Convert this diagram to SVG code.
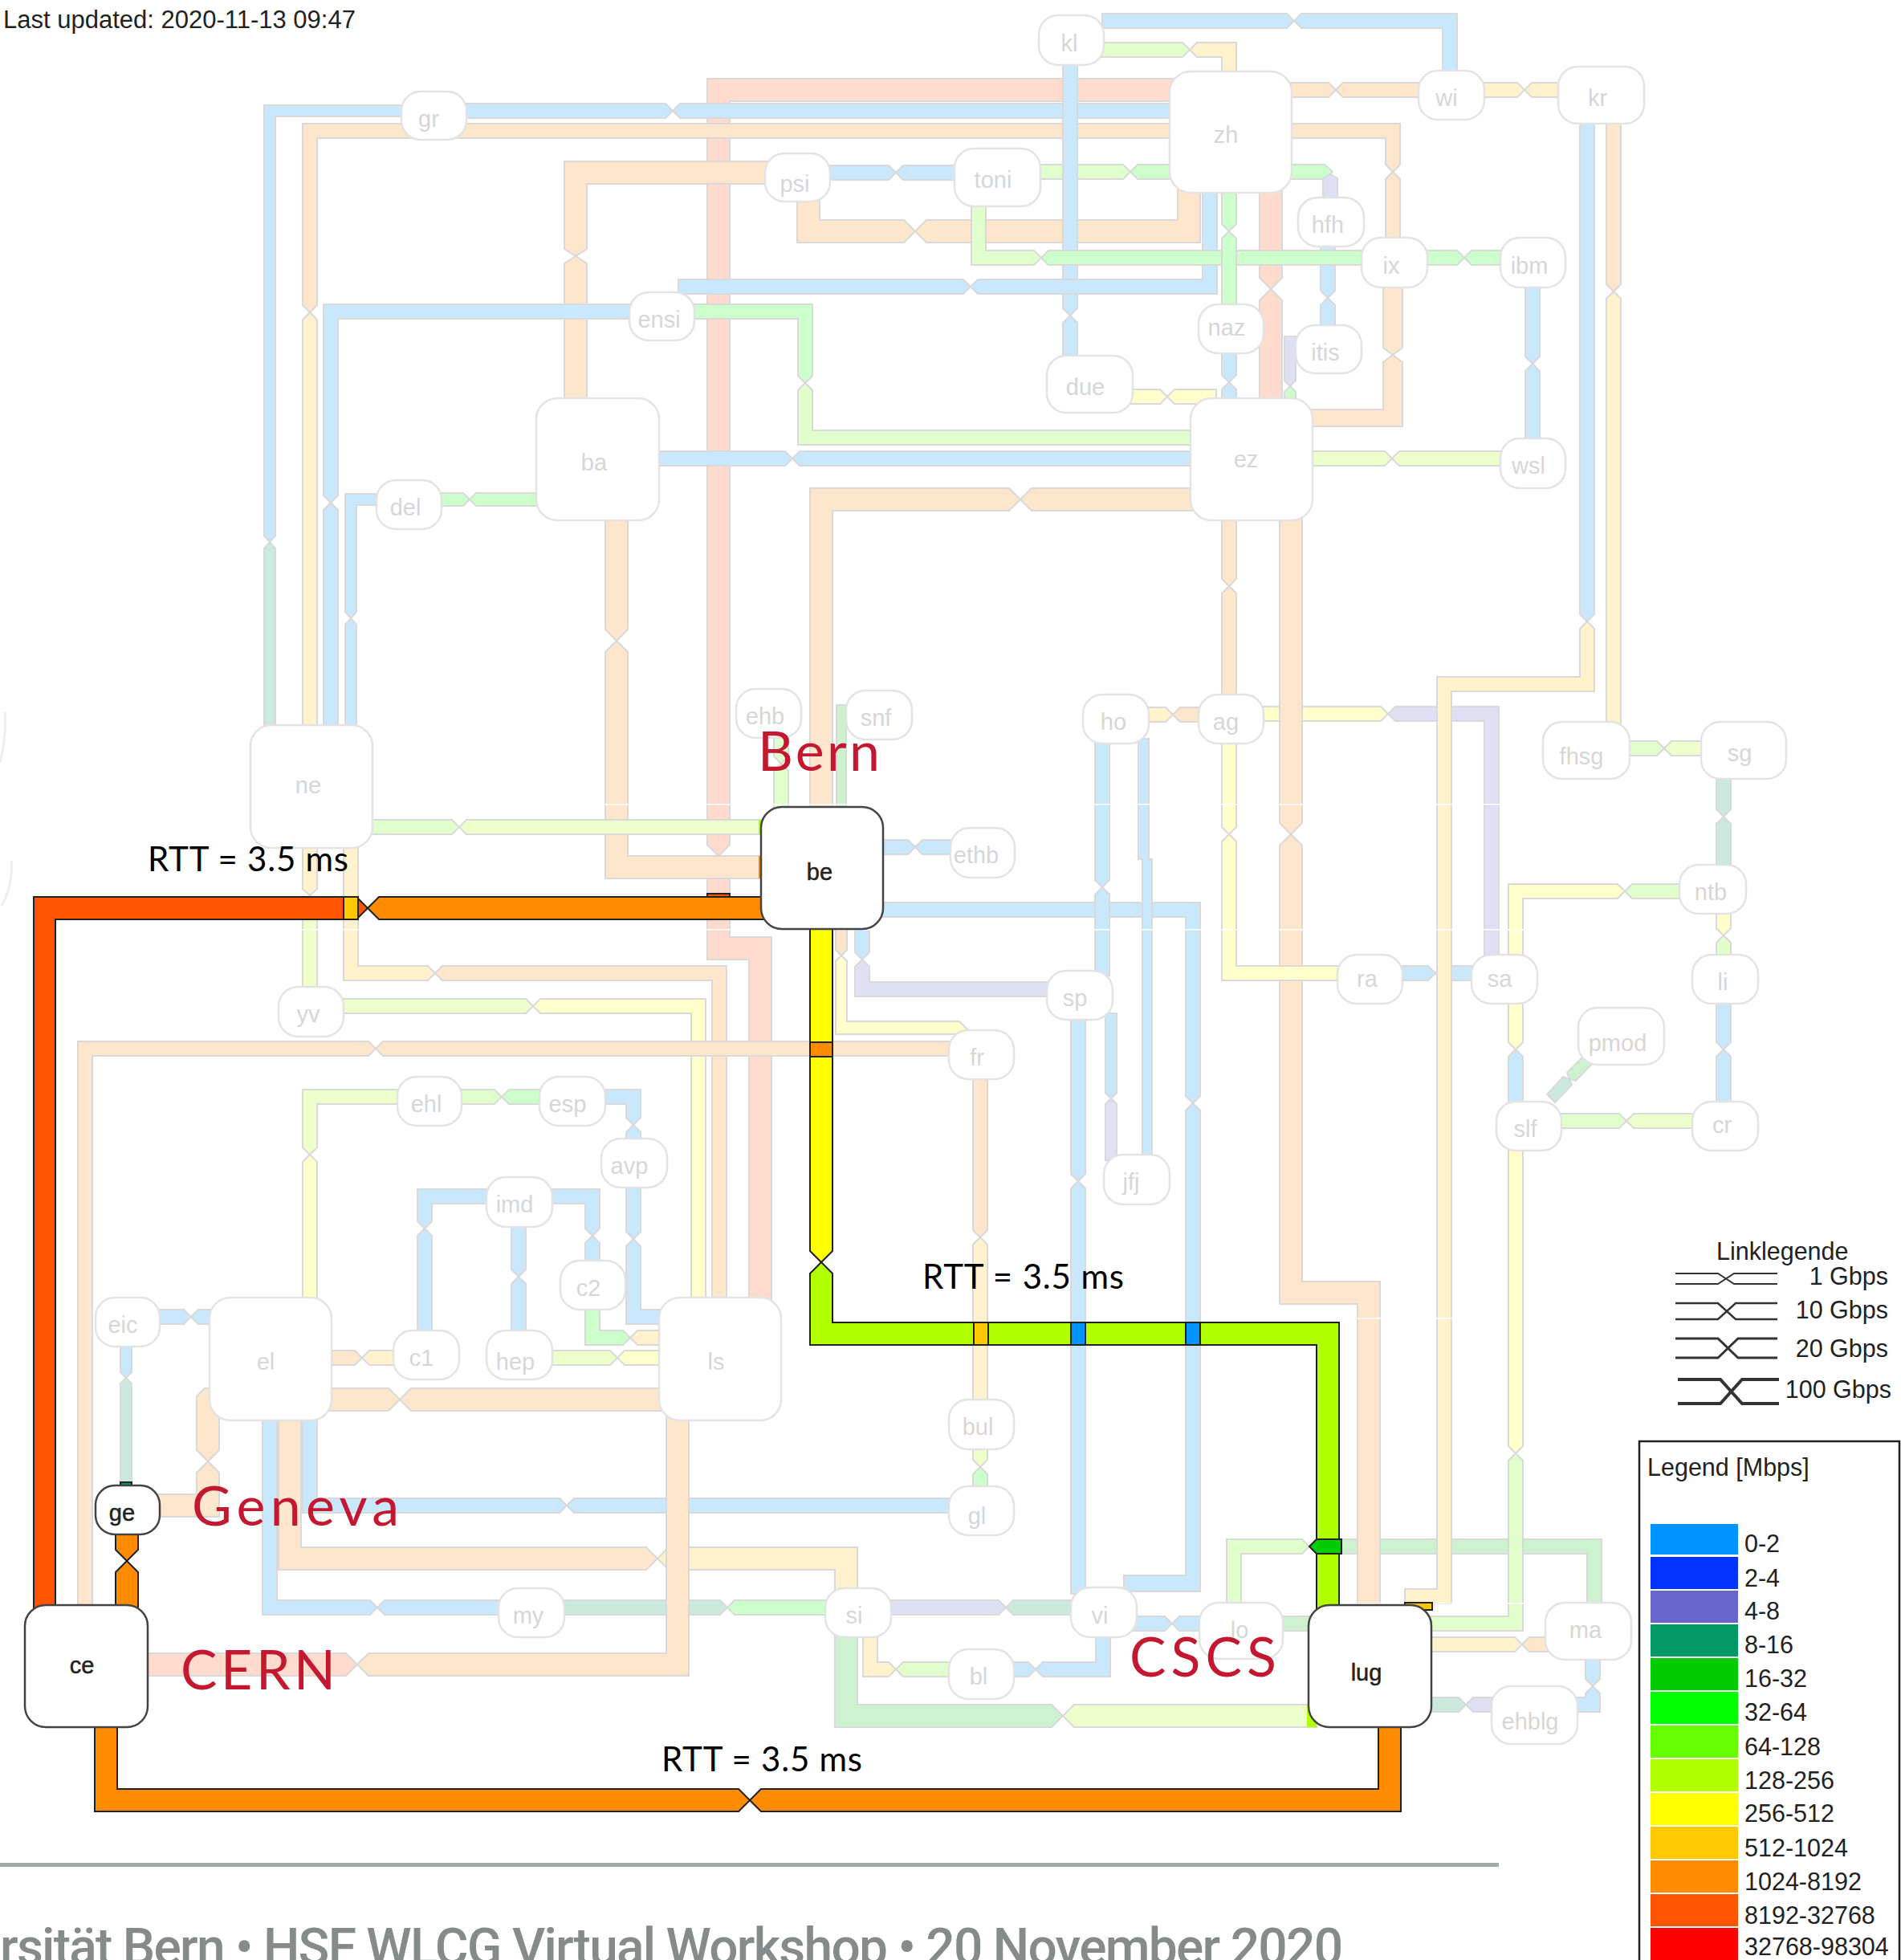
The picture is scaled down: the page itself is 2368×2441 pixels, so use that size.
<svg xmlns="http://www.w3.org/2000/svg" width="2368" height="2441" viewBox="0 0 2368 2441">
<style>
text{font-family:"Liberation Sans",Arial,sans-serif}
#links path{stroke:#d9d9d9;stroke-width:2;stroke-linejoin:miter}
#strong path,#strong rect{stroke:#222;stroke-width:2}
.b{fill:#c9e7fd}.p{fill:#fee6cc}.s{fill:#fedbcc}.a{fill:#fff2cc}.y{fill:#ffffcc}.v{fill:#efffcc}.l{fill:#e0ffcc}.g{fill:#ccffcc}.d{fill:#cdf2d0}.t{fill:#cce9dd}.u{fill:#e0e0f5}
.n rect{fill:#fff;stroke:#e3e3e3;stroke-width:2.5}
.n text{font-size:29px;fill:#d6d6d6;text-anchor:middle}
.k rect{fill:#fff;stroke:#444;stroke-width:2.5}
.k text{font-size:29px;fill:#222;text-anchor:middle;stroke:#222;stroke-width:.5}
.rtt{font-family:Lato,"Liberation Sans",sans-serif;font-size:42px;fill:#000}
.city{font-family:Lato,"Liberation Sans",sans-serif;font-size:68px;fill:#c3182f}
.lg{font-size:30.5px;fill:#222}
.wl{stroke:#333;stroke-width:2;fill:none}
</style>
<rect width="2368" height="2441" fill="#fff"/>
<text x="4" y="35" font-size="31" fill="#222">Last updated: 2020-11-13 09:47</text>
<path d="M6 887Q8 920 0 950M14 1072Q16 1105 2 1128" fill="none" stroke="#eee" stroke-width="3"/>
<g id="links">
<path class="s" d="M1470 98H881V1052L895 1066 909 1052V126H1470Z"/><path class="s" d="M881 1080L895 1066 909 1080V1167H961V1630H933V1195H881Z"/>
<path class="s" d="M1569 230H1597V346L1583 360 1569 346Z"/><path class="s" d="M1569 374L1583 360 1597 374V505H1569Z"/>
<path class="b" d="M510 131H329V667L336 675 343 667V145H510Z"/><path class="t" d="M329 683L336 675 343 683V915H329Z"/>
<path class="b" d="M575 129H829L838 138 829 147H575Z"/><path class="b" d="M847 129H1470V147H847L838 138Z"/>
<path class="p" d="M1470 154H377V380L386 389 395 380V172H1470Z"/><path class="a" d="M377 398L386 389 395 398V915H377Z"/>
<path class="p" d="M960 201H703V310L717 319 731 310V229H960Z"/><path class="p" d="M703 328L717 319 731 328V505H703Z"/>
<path class="b" d="M1025 206H1107L1116 215 1107 224H1025Z"/><path class="b" d="M1125 206H1200V224H1125L1116 215Z"/>
<path class="p" d="M993 245H1021V274H1126L1140 288 1126 302H993Z"/><path class="p" d="M1154 274H1467V230H1495V302H1154L1140 288Z"/>
<path class="l" d="M1288 205H1399L1408 214 1399 223H1288Z"/><path class="g" d="M1417 205H1470V223H1417L1408 214Z"/>
<path class="b" d="M1324 70H1342V384L1333 393 1324 384Z"/><path class="b" d="M1324 402L1333 393 1342 402V450H1324Z"/>
<path class="b" d="M845 348H1200L1209 357 1200 366H845Z"/><path class="b" d="M1218 348H1498V230H1516V366H1218L1209 357Z"/>
<path class="b" d="M795 379H403V617L412 626 421 617V397H795Z"/><path class="b" d="M403 635L412 626 421 635V915H403Z"/>
<path class="g" d="M855 379H1012V468L1003 477 994 468V397H855Z"/><path class="l" d="M994 486L1003 477 1012 486V536H1495V554H994Z"/>
<path class="b" d="M815 562H978L987 571 978 580H815Z"/><path class="b" d="M996 562H1495V580H996L987 571Z"/>
<path class="g" d="M545 614H577L585 622 577 630H545Z"/><path class="g" d="M593 614H680V630H593L585 622Z"/>
<path class="b" d="M480 615H430V762L437 770 444 762V629H480Z"/><path class="b" d="M430 778L437 770 444 778V915H430Z"/>
<path class="p" d="M754 640H782V784L768 798 754 784Z"/><path class="p" d="M754 812L768 798 782 812V1066H960V1094H754Z"/>
<path class="p" d="M1495 608H1285L1271 622 1285 636H1495Z"/><path class="p" d="M1257 608H1009V1015H1037V636H1257L1271 622Z"/>
<path class="l" d="M455 1021H563L572 1030 563 1039H455Z"/><path class="v" d="M581 1021H960V1039H581L572 1030Z"/>
<path class="l" d="M964 1015V960L973 951 982 960V1015Z"/><path class="l" d="M964 942L973 951 982 942V910H964Z"/>
<path class="d" d="M1042 878H1054V1015H1042Z"/>
<path class="b" d="M1090 1046H1131L1140 1055 1131 1064H1090Z"/><path class="b" d="M1149 1046H1195V1064H1149L1140 1055Z"/>
<path class="b" d="M1090 1124H1495V1365L1486 1374 1477 1365V1142H1090Z"/><path class="b" d="M1477 1383L1486 1374 1495 1383V1982H1400V1962H1477Z"/>
<path class="b" d="M1065 1150H1083V1186L1074 1195 1065 1186Z"/><path class="u" d="M1065 1204L1074 1195 1083 1204V1223H1315V1241H1065Z"/>
<path class="p" d="M1041 1150H1055V1183L1048 1190 1041 1183Z"/><path class="y" d="M1041 1197L1048 1190 1055 1197V1272H1195L1206 1283 1195 1288H1041Z"/>
<path class="a" d="M377 1050H395V1107L386 1115 377 1107Z"/><path class="v" d="M377 1123L386 1115 395 1123V1240H377Z"/>
<path class="a" d="M428 1050H446V1203H533L542 1212 533 1221H428Z"/><path class="p" d="M551 1203H905V1630H887V1221H551L542 1212Z"/>
<path class="v" d="M420 1244H655L664 1253 655 1262H420Z"/><path class="y" d="M673 1244H879V1630H861V1262H673L664 1253Z"/>
<path class="p" d="M1195 1297H477L468 1306 477 1315H1195Z"/><path class="p" d="M459 1297H97V2010H115V1315H459L468 1306Z"/>
<path class="y" d="M377 1630V1447L386 1438 395 1447V1630Z"/><path class="v" d="M377 1429L386 1438 395 1429V1375H505V1357H377Z"/>
<path class="l" d="M565 1357H616L625 1366 616 1375H565Z"/><path class="g" d="M634 1357H685V1375H634L625 1366Z"/>
<path class="b" d="M745 1357H798V1392L789 1401 780 1392V1375H745Z"/><path class="b" d="M780 1410L789 1401 798 1410V1425H780Z"/>
<path class="b" d="M780 1470H798V1534L789 1543 780 1534Z"/><path class="b" d="M780 1552L789 1543 798 1552V1631H830V1649H780Z"/>
<path class="b" d="M680 1481H747V1530L738 1539 729 1530V1499H680Z"/><path class="b" d="M729 1548L738 1539 747 1548V1580H729Z"/>
<path class="b" d="M520 1665V1539L529 1530 538 1539V1665Z"/><path class="b" d="M520 1521L529 1530 538 1521V1499H615V1481H520Z"/>
<path class="b" d="M637 1520H655V1581L646 1590 637 1581Z"/><path class="b" d="M637 1599L646 1590 655 1599V1665H637Z"/>
<path class="g" d="M729 1625H747V1657H776L785 1666 776 1675H729Z"/><path class="a" d="M794 1657H830V1675H794L785 1666Z"/>
<path class="v" d="M680 1682H760L769 1691 760 1700H680Z"/><path class="y" d="M778 1682H830V1700H778L769 1691Z"/>
<path class="p" d="M405 1682H442L451 1691 442 1700H405Z"/><path class="a" d="M460 1682H500V1700H460L451 1691Z"/>
<path class="p" d="M405 1729H484L498 1743 484 1757H405Z"/><path class="p" d="M512 1729H830V1757H512L498 1743Z"/>
<path class="b" d="M190 1631H229L238 1640 229 1649H190Z"/><path class="b" d="M247 1631H270V1649H247L238 1640Z"/>
<path class="b" d="M150 1670H164V1709L157 1716 150 1709Z"/><path class="t" d="M150 1723L157 1716 164 1723V1855H150Z"/>
<path class="p" d="M190 1861H245V1834L259 1820 273 1834V1889H190Z"/><path class="p" d="M245 1806L259 1820 273 1806V1729H255L245 1739Z"/>
<path class="b" d="M1195 1866H715L706 1875 715 1884H1195Z"/><path class="b" d="M697 1866H395V1760H377V1884H697L706 1875Z"/>
<path class="b" d="M327 1760H345V1993H461L470 2002 461 2011H327Z"/><path class="b" d="M479 1993H630V2011H479L470 2002Z"/>
<path class="p" d="M347 1760H375V1927H805L819 1941 805 1955H347Z"/><path class="a" d="M833 1927H1068V1985H1040V1955H833L819 1941Z"/>
<path class="t" d="M695 1993H897L906 2002 897 2011H695Z"/><path class="g" d="M915 1993H1040V2011H915L906 2002Z"/>
<path class="p" d="M830 1760H858V2087H459L445 2073 459 2059H830Z"/><path class="s" d="M431 2059H175V2087H431L445 2073Z"/>
<path class="u" d="M1100 1993H1244L1253 2002 1244 2011H1100Z"/><path class="t" d="M1262 1993H1345V2011H1262L1253 2002Z"/>
<path class="a" d="M1075 2030H1093V2070H1107L1116 2079 1107 2088H1075Z"/><path class="l" d="M1125 2070H1195V2088H1125L1116 2079Z"/>
<path class="d" d="M1040 2030H1068V2123H1310L1324 2137 1310 2151H1040Z"/><path class="v" d="M1338 2123H1640V2151H1338L1324 2137Z"/>
<path class="b" d="M1405 2013H1451L1460 2022 1451 2031H1405Z"/><path class="b" d="M1469 2013H1505V2031H1469L1460 2022Z"/>
<path class="b" d="M1255 2070H1281L1290 2079 1281 2088H1255Z"/><path class="b" d="M1299 2070H1365V2030H1383V2088H1299L1290 2079Z"/>
<path class="l" d="M1528 2005V1917H1622L1631 1926 1622 1935H1546V2005Z"/><path class="d" d="M1640 1917H1995V2005H1977V1935H1640L1631 1926Z"/>
<path class="d" d="M1590 2013H1640V2031H1590Z"/>
<path class="b" d="M1334 1262H1352V1462L1343 1471 1334 1462Z"/><path class="b" d="M1334 1480L1343 1471 1352 1480V1985H1334Z"/>
<path class="b" d="M1364 920H1382V1096L1373 1105 1364 1096Z"/><path class="b" d="M1364 1114L1373 1105 1382 1114V1215H1364Z"/>
<path class="b" d="M1418 920H1431V1070H1435V1450H1423V1070H1418Z"/>
<path class="b" d="M1377 1262H1391V1361L1384 1368 1377 1361Z"/><path class="u" d="M1377 1375L1384 1368 1391 1375V1445H1377Z"/>
<path class="p" d="M1212 1335H1230V1532L1221 1541 1212 1532Z"/><path class="a" d="M1212 1550L1221 1541 1230 1550V1750H1212Z"/>
<path class="v" d="M1212 1800H1230V1818L1221 1827 1212 1818Z"/><path class="g" d="M1212 1836L1221 1827 1230 1836V1855H1212Z"/>
<path class="a" d="M1425 881H1452L1461 890 1452 899H1425Z"/><path class="p" d="M1470 881H1500V899H1470L1461 890Z"/>
<path class="p" d="M1522 640H1540V721L1531 730 1522 721Z"/><path class="p" d="M1522 739L1531 730 1540 739V870H1522Z"/>
<path class="y" d="M1565 880H1720L1729 889 1720 898H1565Z"/><path class="u" d="M1738 880H1867V1195H1849V898H1738L1729 889Z"/>
<path class="p" d="M1594 640H1622V1025L1608 1039 1594 1025Z"/><path class="p" d="M1594 1053L1608 1039 1622 1053V1596H1719V2005H1691V1624H1594Z"/>
<path class="y" d="M1522 920H1540V1030L1531 1039 1522 1030Z"/><path class="y" d="M1522 1048L1531 1039 1540 1048V1203H1675V1221H1522Z"/>
<path class="b" d="M1740 1203H1779L1788 1212 1779 1221H1740Z"/><path class="b" d="M1797 1203H1845V1221H1797L1788 1212Z"/>
<path class="b" d="M1968 145H1986V765L1977 774 1968 765Z"/><path class="a" d="M1968 783L1977 774 1986 783V861H1808V1997H1750V1979H1790V843H1968Z"/>
<path class="p" d="M2001 145H2019V354L2010 363 2001 354Z"/><path class="a" d="M2001 372L2010 363 2019 372V905H2001Z"/>
<path class="l" d="M2020 923H2064L2073 932 2064 941H2020Z"/><path class="v" d="M2082 923H2130V941H2082L2073 932Z"/>
<path class="t" d="M2138 960H2156V1008L2147 1017 2138 1008Z"/><path class="t" d="M2138 1026L2147 1017 2156 1026V1085H2138Z"/>
<path class="y" d="M2138 1130H2156V1156L2147 1165 2138 1156Z"/><path class="l" d="M2138 1174L2147 1165 2156 1174V1195H2138Z"/>
<path class="l" d="M2100 1101H2033L2024 1110 2033 1119H2100Z"/><path class="y" d="M2015 1101H1879V1195H1897V1119H2015L2024 1110Z"/>
<path class="y" d="M1879 1245H1897V1298L1888 1307 1879 1298Z"/><path class="b" d="M1879 1316L1888 1307 1897 1316V1378H1879Z"/>
<path class="d" d="M1972 1316L1982 1326 1963 1346 1955 1344 1952 1336Z"/><path class="t" d="M1947 1341L1955 1344 1958 1351 1937 1373 1927 1363Z"/>
<path class="l" d="M1940 1387H2017L2026 1396 2017 1405H1940Z"/><path class="v" d="M2035 1387H2115V1405H2035L2026 1396Z"/>
<path class="b" d="M2138 1245H2156V1298L2147 1307 2138 1298Z"/><path class="b" d="M2138 1316L2147 1307 2156 1316V1378H2138Z"/>
<path class="y" d="M1879 1428H1897V1801L1888 1810 1879 1801Z"/><path class="l" d="M1879 1819L1888 1810 1897 1819V2031H1775V2013H1879Z"/>
<path class="a" d="M1775 2039H1887L1896 2048 1887 2057H1775Z"/><path class="p" d="M1905 2039H1935V2057H1905L1896 2048Z"/>
<path class="b" d="M1975 2060H1993V2091L1984 2100 1975 2091Z"/><path class="b" d="M1975 2109L1984 2100 1993 2109V2132H1955V2114H1975Z"/>
<path class="t" d="M1775 2114H1817L1826 2123 1817 2132H1775Z"/><path class="u" d="M1835 2114H1870V2132H1835L1826 2123Z"/>
<path class="b" d="M1900 350H1918V444L1909 453 1900 444Z"/><path class="b" d="M1900 462L1909 453 1918 462V555H1900Z"/>
<path class="g" d="M1770 312H1815L1824 321 1815 330H1770Z"/><path class="g" d="M1833 312H1880V330H1833L1824 321Z"/>
<path class="v" d="M1625 562H1725L1734 571 1725 580H1625Z"/><path class="v" d="M1743 562H1880V580H1743L1734 571Z"/>
<path class="b" d="M1645 298H1663V362L1654 371 1645 362Z"/><path class="b" d="M1645 380L1654 371 1663 380V412H1645Z"/>
<path class="g" d="M1705 312H1306L1297 321 1306 330H1705Z"/><path class="l" d="M1288 312H1228V250H1210V330H1288L1297 321Z"/>
<path class="l" d="M1365 53H1473L1482 62 1473 71H1365Z"/><path class="a" d="M1491 53H1540V100H1522V71H1491L1482 62Z"/>
<path class="b" d="M1373 17H1603L1612 26 1603 35H1373Z"/><path class="b" d="M1621 17H1815V95H1797V35H1621L1612 26Z"/>
<path class="p" d="M1600 103H1655L1664 112 1655 121H1600Z"/><path class="p" d="M1673 103H1775V121H1673L1664 112Z"/>
<path class="a" d="M1840 103H1890L1899 112 1890 121H1840Z"/><path class="a" d="M1908 103H1950V121H1908L1899 112Z"/>
<path class="p" d="M1600 154H1744V205L1735 214 1726 205V172H1600Z"/><path class="p" d="M1726 223L1735 214 1744 223V305H1726Z"/>
<path class="g" d="M1600 205H1650L1660 214 1650 223H1600Z"/><path class="u" d="M1648 222L1657 217 1666 222V255H1648Z"/>
<path class="g" d="M1522 230H1540V279L1531 288 1522 279Z"/><path class="g" d="M1522 297L1531 288 1540 297V390H1522Z"/>
<path class="b" d="M1522 432H1540V467L1531 476 1522 467Z"/><path class="b" d="M1522 485L1531 476 1540 485V505H1522Z"/>
<path class="u" d="M1600 419H1614V474L1607 481 1600 474Z"/><path class="g" d="M1600 488L1607 481 1614 488V505H1600Z"/>
<path class="p" d="M1723 350H1747V433L1735 442 1723 433Z"/><path class="p" d="M1723 451L1735 442 1747 451V531H1625V510H1723Z"/>
<path class="y" d="M1400 485H1445L1454 494 1445 503H1400Z"/><path class="y" d="M1463 485H1515V503H1463L1454 494Z"/>
</g>
<g id="seams" fill="#fff"><rect x="300" y="1001" width="1600" height="1.5"/><rect x="300" y="1157" width="1600" height="1.5"/><rect x="1690" y="1641" width="140" height="1.5"/><rect x="1690" y="1996" width="210" height="1.5"/></g>
<g class="n" id="n-gr"><rect x="500" y="114" width="81" height="60" rx="24"/><text x="534" y="158">gr</text></g>
<g class="n" id="n-psi"><rect x="953" y="191" width="81" height="60" rx="24"/><text x="990" y="239">psi</text></g>
<g class="n" id="n-ensi"><rect x="784" y="364" width="81" height="60" rx="24"/><text x="821" y="408">ensi</text></g>
<g class="n" id="n-ba"><rect x="668" y="496" width="153" height="152" rx="26"/><text x="740" y="586">ba</text></g>
<g class="n" id="n-del"><rect x="469" y="598" width="81" height="61" rx="24"/><text x="505" y="642">del</text></g>
<g class="n" id="n-ne"><rect x="312" y="903" width="152" height="153" rx="26"/><text x="384" y="988">ne</text></g>
<g class="n" id="n-ehb"><rect x="917" y="858" width="81" height="61" rx="24"/><text x="953" y="902">ehb</text></g>
<g class="n" id="n-snf"><rect x="1054" y="860" width="82" height="61" rx="24"/><text x="1091" y="904">snf</text></g>
<g class="n" id="n-kl"><rect x="1294" y="19" width="81" height="62" rx="24"/><text x="1332" y="64">kl</text></g>
<g class="n" id="n-zh"><rect x="1457" y="89" width="152" height="151" rx="26"/><text x="1527" y="178">zh</text></g>
<g class="n" id="n-wi"><rect x="1767" y="88" width="82" height="61" rx="24"/><text x="1802" y="132">wi</text></g>
<g class="n" id="n-kr"><rect x="1941" y="83" width="107" height="71" rx="24"/><text x="1990" y="132">kr</text></g>
<g class="n" id="n-toni"><rect x="1189" y="185" width="107" height="72" rx="24"/><text x="1237" y="234">toni</text></g>
<g class="n" id="n-hfh"><rect x="1617" y="246" width="82" height="61" rx="24"/><text x="1654" y="290">hfh</text></g>
<g class="n" id="n-ix"><rect x="1696" y="296" width="82" height="62" rx="24"/><text x="1733" y="341">ix</text></g>
<g class="n" id="n-ibm"><rect x="1869" y="296" width="81" height="62" rx="24"/><text x="1905" y="341">ibm</text></g>
<g class="n" id="n-naz"><rect x="1493" y="379" width="81" height="61" rx="24"/><text x="1528" y="418">naz</text></g>
<g class="n" id="n-itis"><rect x="1614" y="405" width="82" height="60" rx="24"/><text x="1651" y="449">itis</text></g>
<g class="n" id="n-due"><rect x="1304" y="443" width="107" height="71" rx="24"/><text x="1352" y="492">due</text></g>
<g class="n" id="n-ez"><rect x="1483" y="496" width="152" height="152" rx="26"/><text x="1552" y="582">ez</text></g>
<g class="n" id="n-wsl"><rect x="1869" y="546" width="81" height="62" rx="24"/><text x="1904" y="590">wsl</text></g>
<g class="n" id="n-ho"><rect x="1349" y="865" width="82" height="61" rx="24"/><text x="1387" y="909">ho</text></g>
<g class="n" id="n-ag"><rect x="1493" y="865" width="81" height="61" rx="24"/><text x="1527" y="909">ag</text></g>
<g class="n" id="n-fhsg"><rect x="1922" y="899" width="108" height="71" rx="24"/><text x="1970" y="952">fhsg</text></g>
<g class="n" id="n-sg"><rect x="2119" y="899" width="106" height="71" rx="24"/><text x="2167" y="948">sg</text></g>
<g class="n" id="n-ethb"><rect x="1184" y="1031" width="80" height="62" rx="24"/><text x="1216" y="1075">ethb</text></g>
<g class="n" id="n-ntb"><rect x="2092" y="1077" width="83" height="61" rx="24"/><text x="2131" y="1121">ntb</text></g>
<g class="n" id="n-ra"><rect x="1666" y="1189" width="81" height="61" rx="24"/><text x="1703" y="1229">ra</text></g>
<g class="n" id="n-sa"><rect x="1833" y="1189" width="82" height="61" rx="24"/><text x="1868" y="1229">sa</text></g>
<g class="n" id="n-li"><rect x="2108" y="1189" width="82" height="61" rx="24"/><text x="2146" y="1233">li</text></g>
<g class="n" id="n-yv"><rect x="347" y="1229" width="81" height="62" rx="24"/><text x="384" y="1273">yv</text></g>
<g class="n" id="n-ehl"><rect x="495" y="1341" width="80" height="61" rx="24"/><text x="531" y="1385">ehl</text></g>
<g class="n" id="n-esp"><rect x="672" y="1341" width="82" height="61" rx="24"/><text x="707" y="1385">esp</text></g>
<g class="n" id="n-avp"><rect x="749" y="1418" width="82" height="61" rx="24"/><text x="784" y="1462">avp</text></g>
<g class="n" id="n-imd"><rect x="606" y="1466" width="82" height="62" rx="24"/><text x="641" y="1510">imd</text></g>
<g class="n" id="n-c2"><rect x="698" y="1570" width="81" height="61" rx="24"/><text x="733" y="1614">c2</text></g>
<g class="n" id="n-eic"><rect x="119" y="1616" width="80" height="61" rx="24"/><text x="153" y="1660">eic</text></g>
<g class="n" id="n-el"><rect x="261" y="1616" width="152" height="153" rx="26"/><text x="331" y="1706">el</text></g>
<g class="n" id="n-c1"><rect x="490" y="1657" width="82" height="61" rx="24"/><text x="525" y="1701">c1</text></g>
<g class="n" id="n-hep"><rect x="606" y="1657" width="82" height="61" rx="24"/><text x="642" y="1706">hep</text></g>
<g class="n" id="n-ls"><rect x="821" y="1616" width="152" height="153" rx="26"/><text x="892" y="1706">ls</text></g>
<g class="n" id="n-my"><rect x="621" y="1978" width="82" height="61" rx="24"/><text x="658" y="2022">my</text></g>
<g class="n" id="n-si"><rect x="1028" y="1978" width="82" height="61" rx="24"/><text x="1064" y="2022">si</text></g>
<g class="n" id="n-sp"><rect x="1304" y="1209" width="82" height="61" rx="24"/><text x="1339" y="1253">sp</text></g>
<g class="n" id="n-fr"><rect x="1182" y="1283" width="81" height="61" rx="24"/><text x="1217" y="1327">fr</text></g>
<g class="n" id="n-pmod"><rect x="1966" y="1255" width="107" height="71" rx="24"/><text x="2015" y="1309">pmod</text></g>
<g class="n" id="n-slf"><rect x="1864" y="1372" width="81" height="61" rx="24"/><text x="1900" y="1416">slf</text></g>
<g class="n" id="n-cr"><rect x="2108" y="1372" width="82" height="61" rx="24"/><text x="2145" y="1411">cr</text></g>
<g class="n" id="n-jfj"><rect x="1375" y="1438" width="82" height="62" rx="24"/><text x="1409" y="1482">jfj</text></g>
<g class="n" id="n-bul"><rect x="1182" y="1743" width="81" height="62" rx="24"/><text x="1218" y="1787">bul</text></g>
<g class="n" id="n-gl"><rect x="1182" y="1851" width="81" height="61" rx="24"/><text x="1217" y="1898">gl</text></g>
<g class="n" id="n-lo"><rect x="1494" y="1996" width="104" height="70" rx="24"/><text x="1544" y="2040">lo</text></g>
<g class="n" id="n-vi"><rect x="1334" y="1977" width="82" height="62" rx="24"/><text x="1370" y="2022">vi</text></g>
<g class="n" id="n-bl"><rect x="1182" y="2054" width="81" height="62" rx="24"/><text x="1219" y="2098">bl</text></g>
<g class="n" id="n-ma"><rect x="1925" y="1996" width="107" height="71" rx="24"/><text x="1975" y="2040">ma</text></g>
<g class="n" id="n-ehblg"><rect x="1858" y="2100" width="107" height="72" rx="24"/><text x="1906" y="2154">ehblg</text></g>
<g id="strong">
<path fill="#ff8c00" d="M960 1117H472L458 1131 472 1145H960Z"/>
<path fill="#ff5500" d="M444 1117H42V2010H69V1145H444L458 1131Z"/>
<rect fill="#ffc800" x="428" y="1117" width="18" height="28"/>
<rect fill="#ff5500" x="881" y="1113" width="28" height="4"/>
<path fill="#ffff00" d="M1009 1150H1037V1558L1023 1572 1009 1558Z"/>
<path fill="#b2ff00" d="M1009 1586L1023 1572 1037 1586V1647H1668V2005H1640V1675H1009Z"/>
<rect fill="#ff8c00" x="1009" y="1298" width="28" height="18"/>
<rect fill="#ffc800" x="1213" y="1647" width="18" height="28"/>
<rect fill="#0094ff" x="1334" y="1647" width="18" height="28"/>
<rect fill="#0094ff" x="1477" y="1647" width="18" height="28"/>
<path fill="#00cc00" d="M1671 1917V1935H1640L1631 1926 1640 1917Z"/>
<path fill="#ff8c00" d="M118 2140H146V2228H920L934 2242 920 2256H118Z"/>
<path fill="#ff8c00" d="M948 2228H1717V2140H1745V2256H948L934 2242Z"/>
<path fill="#ff8c00" d="M144 1905H172V1930L158 1944 144 1930Z"/>
<path fill="#ff8c00" d="M144 1958L158 1944 172 1958V2005H144Z"/>
<rect fill="#009966" x="150" y="1846" width="14" height="4"/>
<rect fill="#ffc800" x="1750" y="1996" width="34" height="9"/>
<path fill="#b2ff00" style="stroke:none" d="M1628 2123H1640V2151H1628Z"/>
<rect fill="#b2ff00" style="stroke:none" x="945" y="1021" width="5" height="18"/>
<rect fill="#ff8c00" style="stroke:none" x="945" y="1066" width="5" height="28"/>
</g>
<g class="k" id="n-be"><rect x="948" y="1005" width="152" height="152" rx="26"/><text x="1021" y="1096">be</text></g>
<g class="k" id="n-ge"><rect x="119" y="1850" width="80" height="61" rx="24"/><text x="152" y="1894">ge</text></g>
<g class="k" id="n-ce"><rect x="31" y="1999" width="153" height="152" rx="26"/><text x="102" y="2084">ce</text></g>
<g class="k" id="n-lug"><rect x="1630" y="1999" width="153" height="152" rx="26"/><text x="1702" y="2093">lug</text></g>
<text class="rtt" x="184" y="1085" textLength="250">RTT = 3.5 ms</text>
<text class="rtt" x="1149" y="1605" textLength="251">RTT = 3.5 ms</text>
<text class="rtt" x="824" y="2206" textLength="250">RTT = 3.5 ms</text>
<text class="city" x="944" y="960" textLength="152">Bern</text>
<text class="city" x="239" y="1900" textLength="258">Geneva</text>
<text class="city" x="225" y="2104" textLength="193">CERN</text>
<text class="city" x="1407" y="2088" textLength="183">CSCS</text>
<g id="linklegend">
<text class="lg" x="2138" y="1569">Linklegende</text>
<path class="wl" d="M2087 1586H2140L2160 1599H2214M2087 1599H2140L2160 1586H2214" stroke-width="2"/>
<path class="wl" d="M2087 1623H2140L2162 1643H2214M2087 1643H2140L2162 1623H2214" style="stroke-width:2.5"/>
<path class="wl" d="M2087 1667H2140L2165 1691H2214M2087 1691H2140L2165 1667H2214" style="stroke-width:3"/>
<path class="wl" d="M2090 1718H2143L2170 1748H2216M2090 1748H2143L2170 1718H2216" style="stroke-width:4"/>
<g text-anchor="end"><text class="lg" x="2352" y="1600">1 Gbps</text><text class="lg" x="2352" y="1642">10 Gbps</text><text class="lg" x="2352" y="1690">20 Gbps</text><text class="lg" x="2356" y="1741">100 Gbps</text></g>
</g>
<g id="legend">
<rect x="2042" y="1795" width="324" height="660" fill="#fff" stroke="#222" stroke-width="2.5"/>
<text class="lg" x="2052" y="1838">Legend [Mbps]</text>
<rect x="2056" y="1898" width="109" height="38" fill="#0094ff"/><text class="lg" x="2173" y="1933">0-2</text>
<rect x="2056" y="1939" width="109" height="40" fill="#0033ff"/><text class="lg" x="2173" y="1976">2-4</text>
<rect x="2056" y="1981" width="109" height="40" fill="#6666cc"/><text class="lg" x="2173" y="2017">4-8</text>
<rect x="2056" y="2023" width="109" height="40" fill="#009966"/><text class="lg" x="2173" y="2059">8-16</text>
<rect x="2056" y="2065" width="109" height="40" fill="#00cc00"/><text class="lg" x="2173" y="2101">16-32</text>
<rect x="2056" y="2107" width="109" height="40" fill="#00ff00"/><text class="lg" x="2173" y="2143">32-64</text>
<rect x="2056" y="2149" width="109" height="40" fill="#66ff00"/><text class="lg" x="2173" y="2186">64-128</text>
<rect x="2056" y="2191" width="109" height="40" fill="#b2ff00"/><text class="lg" x="2173" y="2228">128-256</text>
<rect x="2056" y="2233" width="109" height="40" fill="#ffff00"/><text class="lg" x="2173" y="2269">256-512</text>
<rect x="2056" y="2275" width="109" height="40" fill="#ffc800"/><text class="lg" x="2173" y="2312">512-1024</text>
<rect x="2056" y="2317" width="109" height="40" fill="#ff8c00"/><text class="lg" x="2173" y="2354">1024-8192</text>
<rect x="2056" y="2359" width="109" height="40" fill="#ff5500"/><text class="lg" x="2173" y="2396">8192-32768</text>
<rect x="2056" y="2401" width="109" height="40" fill="#ff0000"/><text class="lg" x="2173" y="2435">32768-98304</text>
</g>
<rect x="0" y="2320" width="1867" height="5" fill="#a5a8a8"/>
<text x="0" y="2447" font-size="64" font-weight="500" fill="#858a8a" style="font-family:Roboto,'Liberation Sans',sans-serif" textLength="1673">rsität Bern • HSF WLCG Virtual Workshop • 20 November 2020</text>
</svg>
